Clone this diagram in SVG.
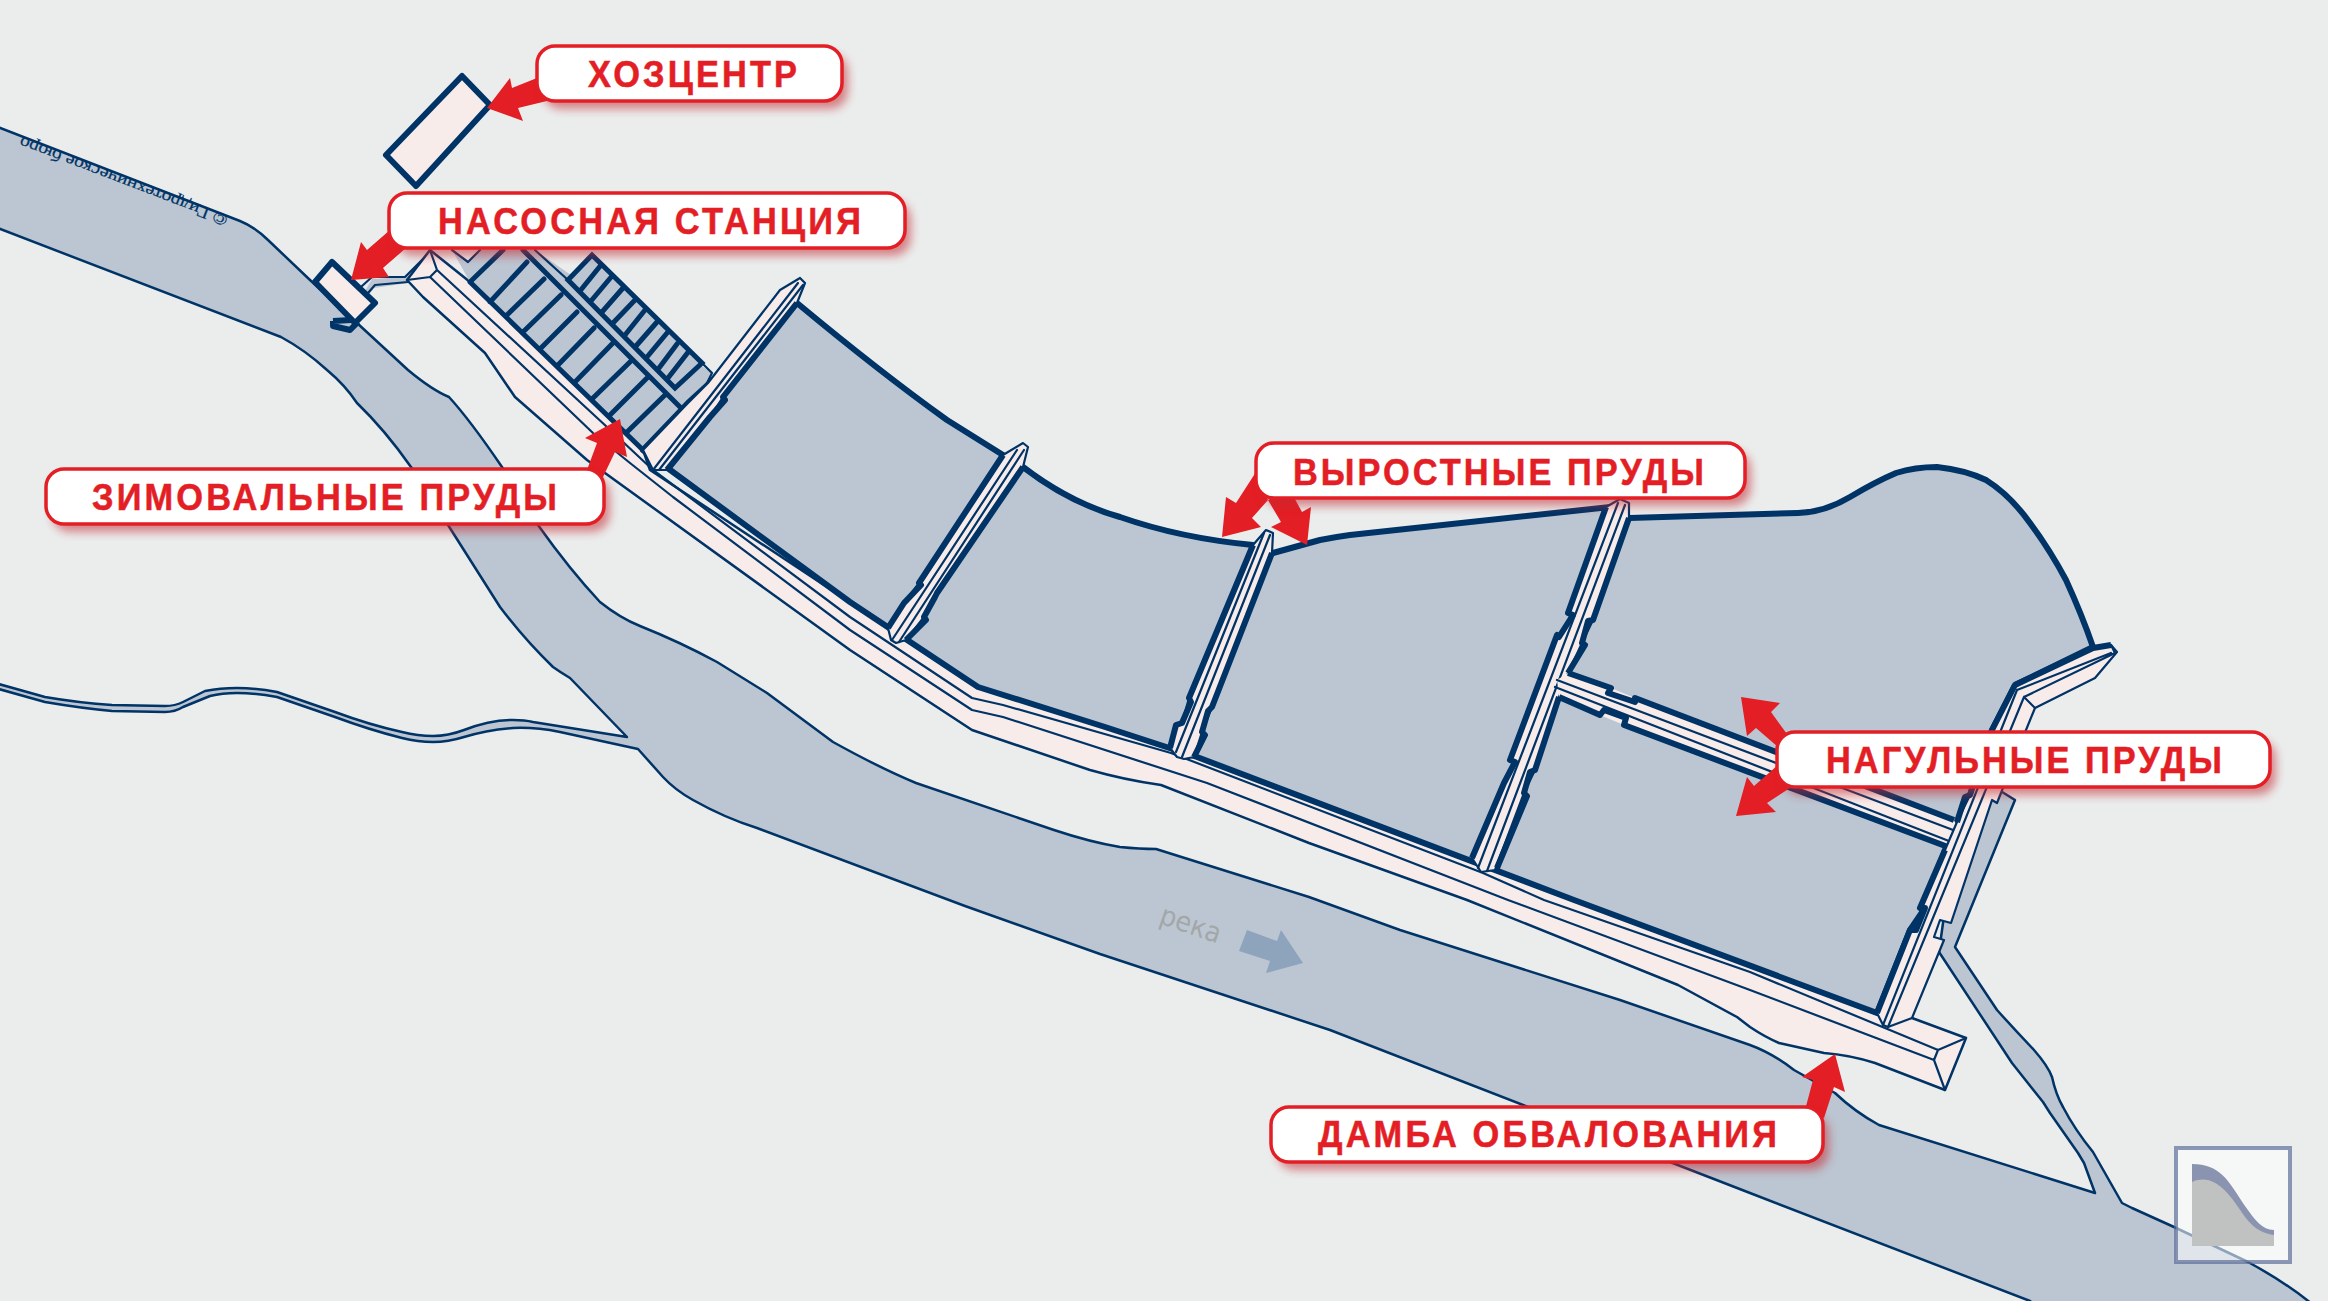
<svg xmlns="http://www.w3.org/2000/svg" width="2328" height="1301" viewBox="0 0 2328 1301">
<defs>
<style>
.water{fill:#bbc6d2;stroke:#003366;stroke-width:2.5;stroke-linejoin:round}
.pond{fill:#bbc6d2;stroke:#003366;stroke-width:6;stroke-linejoin:round}
.pink{fill:#f8ecea;stroke:#003366;stroke-width:2.5;stroke-linejoin:round}
.thick{fill:none;stroke:#003366;stroke-width:6;stroke-linejoin:round}
.thin{fill:none;stroke:#003366;stroke-width:2.2;stroke-linejoin:round;stroke-linecap:round}
.grid{fill:none;stroke:#003366;stroke-width:5;stroke-linecap:round}
.box{fill:#fff;stroke:#e31e24;stroke-width:3.5}
.shadow{fill:#c22a30;opacity:.55;filter:url(#blur)}
.arrow{fill:#e31e24}
.lab{font-family:"Liberation Sans",Arial,sans-serif;font-weight:700;font-size:37px;fill:#e31e24;stroke:#e31e24;stroke-width:.5}
</style>
<filter id="blur" x="-10%" y="-30%" width="120%" height="160%"><feGaussianBlur stdDeviation="5"/></filter>
</defs>
<rect id="background" width="2328" height="1301" fill="#ebeded"/>

<g id="river">
<path class="water" d="M-5,126 L240,221 Q255,227 268,240 L310,280 L357,323 L408,370 Q432,390 449,397 Q470,420 502,467 L538,525 Q570,570 600,602 Q620,618 640,626 Q680,642 717,662 L767,693 L833,742 Q880,768 916,783 L1054,830 Q1090,842 1120,847 Q1140,849 1156,849 L1309,897 L1400,930 L1620,1000 L1750,1045 Q1772,1053 1794,1070 L1835,1093 Q1855,1112 1879,1125 L2095,1193 L2084,1163 L2078,1153 L2050,1113 L2043,1102 L2012,1063 L1939,952 L1960,800 L1999,790 L2015,800 L1955,947 L1997,1010 Q2015,1030 2034,1050 Q2048,1066 2052,1077 Q2056,1095 2063,1107 Q2075,1130 2093,1152 L2122,1203 L2132,1208 L2174,1227 L2248,1262 Q2285,1282 2312,1304 L2312,1310 L2040,1310 L2030,1301 L1750,1193 L1330,1030 L1100,954 L965,906 L757,828 Q725,818 693,800 Q675,790 663,777 L638,749 L560,732 Q535,727 513,728 Q487,730 464,737 Q448,742 433,742 Q418,742 402,738 Q370,730 335,717 L277,697 Q255,693 237,693 Q222,693 210,696 L183,707 Q175,712 165,712 L112,711 Q80,708 45,702 L-5,688 L-5,683 L45,697 Q80,703 112,705 L165,706 Q175,706 183,702 L205,691 Q220,688 237,688 Q257,688 277,692 L335,712 Q370,725 402,732 Q418,736 433,736 Q448,736 464,730 Q490,720 513,720 Q525,720 533,722 L627,737 L570,678 Q560,672 553,667 Q525,640 500,607 L448,525 L411,467 Q385,430 357,403 Q345,385 327,370 Q305,350 281,337 L-5,227 Z"/>
<text transform="translate(229,216) rotate(201)" font-family="'Liberation Serif',serif" font-size="17" fill="#003366" textLength="222" lengthAdjust="spacingAndGlyphs" stroke="#003366" stroke-width=".2">© Гидротехническое бюро</text>
<text transform="translate(1158,923) rotate(19)" font-family="'DejaVu Sans',sans-serif" font-size="28" fill="#a3a7a8" textLength="63" lengthAdjust="spacingAndGlyphs">река</text>
<polygon fill="#8ea4bc" points="1247,930 1277,941 1281,930 1303,963 1266,973 1270,961 1239,951"/>
</g>

<g id="logo">
<rect x="2176" y="1148" width="114" height="114" fill="#fff" fill-opacity=".55" stroke="#5d6e98" stroke-opacity=".7" stroke-width="4"/>
<path fill="#8a94b0" d="M2192,1164 C2220,1164 2228,1180 2245,1206 C2255,1220 2262,1230 2274,1230 L2274,1246 L2192,1246 Z"/>
<path fill="#c0c2c2" d="M2192,1182 C2215,1172 2230,1195 2245,1217 C2255,1230 2265,1234 2274,1235 L2274,1246 L2192,1246 Z"/>
</g>

<g id="pump-station">
<path fill="#bbc6d2" d="M365,291 L372,279 L405,277 L431,251 L436,254 L408,283 L374,288 L368,296 Z"/>
<path class="thin" d="M362,286 L372,277 L405,277 L431,251 M368,293 L375,285 L408,282 L434,253"/>
<path class="thick" stroke-width="5" d="M333,321 L333,326 L350,330 L358,322 M333,321 L351,320"/>
<polygon class="thick" style="fill:#f8ecea" points="332,262 375,303 355,323 315,282"/>
</g>

<g id="main-dam">
<path class="pink" d="M430,250 L470,282 L643,450 L650,470 L978,687 L1105,727 L1197,757 L1472,860 L1879,1015 L1912,1018 L1966,1038 L1945,1090 L1875,1063 Q1850,1055 1824,1053 L1779,1043 Q1765,1037 1750,1027 L1737,1017 L1678,985 L1467,900 L1309,843 L1161,785 Q1125,780 1090,770 L972,730 L850,650 L587,460 L515,397 L485,353 L423,297 L407,280 Z"/>
<path class="thin" d="M430,250 L437,270 L607,427 L653,470 L850,617 L972,698 L1003,705 L1171,753 L1483,873 L1544,900 L1750,972 L1938,1050 L1966,1038 M407,280 L430,277 L593,433 L630,463 L673,497 L850,630 L972,710 L1003,717 L1207,783 L1508,900 L1750,990 L1934,1060 L1945,1090 M1938,1050 L1934,1060 M430,277 L437,270"/>
</g>

<g id="winter-ponds">
<path fill="#bbc6d2" d="M452,250 L468,262 L480,250 L535,250 L712,373 L707,383 L682,412 L643,450 L470,282 Z"/>
<polygon fill="#bbc6d2" points="568,280 592,255 702,363 675,388"/>
<path class="thin" d="M452,250 L468,262 L480,250 M535,250 L568,280 M702,363 L712,373 L707,383 L692,402 L682,412"/>
<path class="grid" d="M470,282 L643,450 L683,410 M523,250 L683,410 M470,282 L503,250 M490,302 L527,262 M507,315 L544,279 M523,332 L561,295 M540,349 L577,312 M558,365 L594,328 M575,382 L612,344 M593,398 L630,362 M610,415 L647,378 M627,432 L665,395"/>
<path class="grid" d="M568,280 L592,255 L702,363 L675,388 Z M580,291 L601,265 M591,301 L612,276 M602,312 L623,288 M613,323 L635,300 M625,335 L645,310 M636,346 L657,322 M647,357 L667,333 M659,368 L677,344 M668,378 L689,351"/>
</g>

<g id="ponds">
<path class="pond" d="M797,303 Q880,372 947,420 L1003,455 L1023,467 Q1070,503 1120,517 Q1180,538 1253,545 L1273,553 L1320,540 Q1335,537 1350,535 L1610,507 L1629,518 L1798,513 Q1825,512 1850,497 Q1875,482 1896,473 Q1915,467 1937,467 Q1965,470 1986,480 Q2010,495 2030,523 Q2050,550 2066,580 Q2082,615 2093,647 L2015,685 L1992,730 L1970,795 L1957,822 L1945,850 L1925,908 L1910,930 L1877,1013 L1574,900 L1197,757 L1105,727 L978,687 L850,602 L643,450 L688,403 Z"/>
</g>

<g id="dam-1">
<polygon class="thin" style="fill:#f8ecea" points="800,278 805,283 797,303 723,397 710,417 667,470 653,470 643,450 688,403 708,383 780,290"/>
<path class="thick" d="M797,303 L723,397 L725,400 L710,417 L667,470"/>
<path class="thin" d="M798,283 L653,470 M803,285 L659,470"/>
</g>
<g id="dam-2">
<polygon class="thin" style="fill:#f8ecea" points="1023,443 1028,447 1023,467 937,593 924,617 906,640 896,643 891,640 888,628 904,603 919,583 1003,455"/>
<path class="thick" stroke-width="5" d="M1003,455 L919,583 L921,585 L904,603 L888,628 M1023,467 L937,593 L935,597 L924,617 L926,620 L906,640"/>
<path class="thin" d="M1017,450 L892,640 M1024,450 L899,642"/>
</g>
<g id="dam-3">
<polygon class="thin" style="fill:#f8ecea" points="1266,530 1273,533 1272,553 1212,707 1202,732 1194,757 1184,759 1177,757 1170,748 1176,725 1182,723 1189,698 1253,545"/>
<path class="thick" d="M1253,545 L1189,698 L1191,702 L1182,723 L1176,725 L1170,748 M1272,553 L1212,707 L1208,711 L1202,732 L1205,735 L1194,757"/>
<path class="thin" d="M1264,533 L1176,752 M1270,535 L1182,757"/>
</g>
<g id="dam-4">
<polygon class="thin" style="fill:#f8ecea" points="1620,499 1629,503 1629,518 1593,620 1582,643 1568,673 1559,697 1535,770 1524,793 1495,870 1481,872 1472,858 1504,783 1515,762 1510,760 1557,635 1559,637 1573,615 1568,613 1606,507"/>
<path class="thick" d="M1606,507 L1568,613 L1573,615 L1559,637 L1557,635 L1510,760 L1515,762 L1504,783 L1472,858 M1629,518 L1593,620 L1588,621 L1582,643 L1585,645 L1568,673 M1559,697 L1535,770 L1530,772 L1524,793 L1527,796 L1497,868"/>
<path class="thin" d="M1618,503 L1478,868 M1625,505 L1487,871"/>
</g>
<g id="dam-5">
<polygon style="fill:#f8ecea;stroke:none" points="1568,673 1611,688 1635,698 1954,820 1959,830 1948,847 1624,725 1600,715 1559,697 1557,680"/>
<path class="thick" d="M1568,673 L1611,688 L1608,693 L1635,702 L1635,698 L1954,820 M1559,697 L1600,715 L1604,710 L1626,718 L1624,725 L1948,847"/>
<path class="thin" d="M1557,680 L1961,833 M1555,687 L1954,843"/>
</g>
<g id="dam-6">
<polygon class="thin" style="fill:#f8ecea" points="2015,685 2093,648 2111,645 2117,652 2095,678 2035,708 2026,730 1997,803 1992,800 1951,923 1940,920 1934,937 1944,940 1912,1018 1888,1027 1883,1025 1877,1013 1910,930 1916,930 1925,908 1920,908 1945,850 1957,822 1970,795 1992,730"/>
<path class="thick" d="M2015,685 L2093,648 L2111,645 M2015,685 L1992,730 L1970,795 L1965,797 L1957,822 M1945,850 L1920,908 L1925,908 L1916,930 L1910,930 L1877,1013"/>
<path class="thin" d="M2017,690 L1883,1025 M2024,697 L1888,1027 M2017,690 L2111,653 M2024,697 L2035,708 M2024,697 L2115,653 M2111,645 L2115,653"/>
</g>

<g id="hozcenter">
<polygon class="thick" style="fill:#f8ecea" points="462,76 490,105 416,186 386,155"/>
</g>

<g id="connectors">
<polygon class="arrow" points="487,108 510,78 512,88 537,78 551,100 518,108 523,121"/>
<polygon class="arrow" points="351,280 361,242 367,250 390,230 406,248 383,268 389,277"/>
<polygon class="arrow" points="620,419 585,438 597,443 584,478 603,477 615,452 627,457"/>
<polygon class="arrow" points="1222,537 1226,497 1236,503 1256,472 1268,500 1252,518 1261,527"/>
<polygon class="arrow" points="1307,545 1311,507 1302,512 1290,490 1268,500 1281,522 1271,527"/>
<polygon class="arrow" points="1741,697 1780,703 1771,712 1795,745 1778,747 1756,728 1747,736"/>
<polygon class="arrow" points="1736,816 1747,777 1754,786 1778,765 1790,788 1767,803 1776,812"/>
<polygon class="arrow" points="1835,1054 1802,1077 1813,1080 1805,1110 1824,1118 1834,1087 1845,1092"/>
</g>

<g id="label-hozcenter">
<rect class="shadow" x="543" y="54" width="305" height="55" rx="18"/>
<rect class="box" x="537" y="46" width="305" height="55" rx="18"/>
<text class="lab" transform="translate(588,87) scale(.93,1)" textLength="224.7" lengthAdjust="spacing">ХОЗЦЕНТР</text>
</g>
<g id="label-pump">
<rect class="shadow" x="395" y="201" width="516" height="55" rx="18"/>
<rect class="box" x="389" y="193" width="516" height="55" rx="18"/>
<text class="lab" transform="translate(438,234) scale(.93,1)" textLength="454.8" lengthAdjust="spacing">НАСОСНАЯ СТАНЦИЯ</text>
</g>
<g id="label-winter">
<rect class="shadow" x="52" y="477" width="558" height="55" rx="18"/>
<rect class="box" x="46" y="469" width="558" height="55" rx="18"/>
<text class="lab" transform="translate(92,510) scale(.93,1)" textLength="500" lengthAdjust="spacing">ЗИМОВАЛЬНЫЕ ПРУДЫ</text>
</g>
<g id="label-growing">
<rect class="shadow" x="1262" y="451" width="489" height="55" rx="18"/>
<rect class="box" x="1256" y="443" width="489" height="55" rx="18"/>
<text class="lab" transform="translate(1293,485) scale(.93,1)" textLength="442" lengthAdjust="spacing">ВЫРОСТНЫЕ ПРУДЫ</text>
</g>
<g id="label-fattening">
<rect class="shadow" x="1783" y="740" width="493" height="55" rx="18"/>
<rect class="box" x="1777" y="732" width="493" height="55" rx="18"/>
<text class="lab" transform="translate(1826,773) scale(.93,1)" textLength="425.8" lengthAdjust="spacing">НАГУЛЬНЫЕ ПРУДЫ</text>
</g>
<g id="label-dam">
<rect class="shadow" x="1277" y="1115" width="552" height="55" rx="18"/>
<rect class="box" x="1271" y="1107" width="552" height="55" rx="18"/>
<text class="lab" transform="translate(1318,1147) scale(.93,1)" textLength="493.5" lengthAdjust="spacing">ДАМБА ОБВАЛОВАНИЯ</text>
</g>
</svg>
